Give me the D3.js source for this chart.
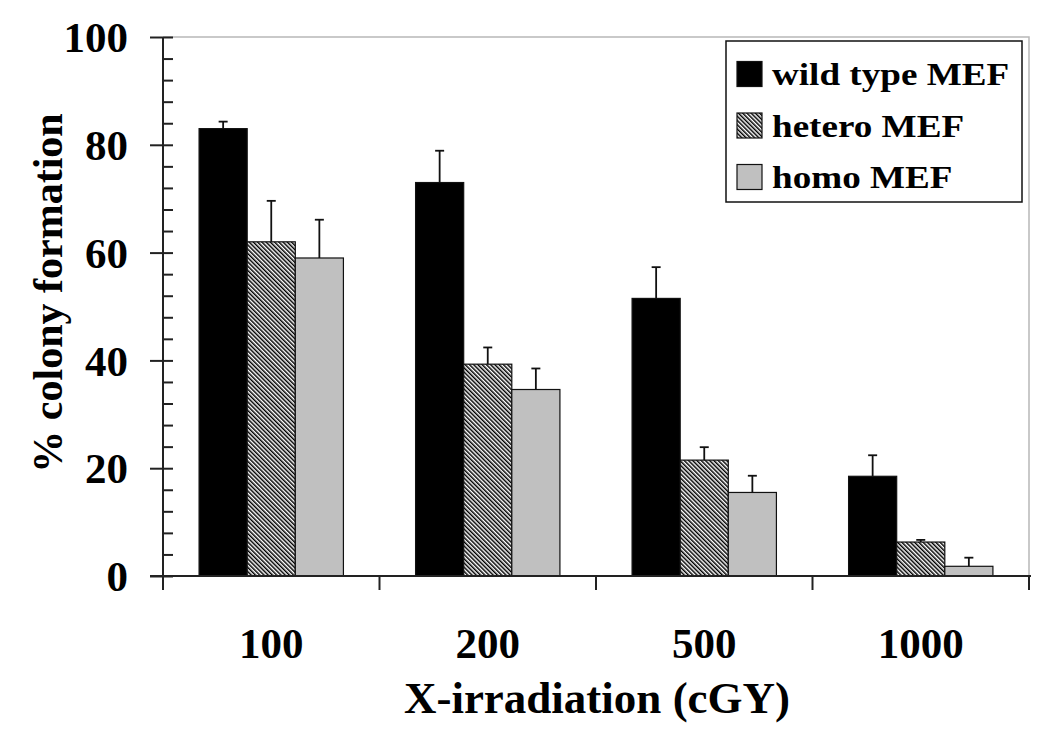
<!DOCTYPE html>
<html>
<head>
<meta charset="utf-8">
<script src="https://cdn.jsdelivr.net/npm/d3@7"></script>
<style>
  html, body { margin: 0; padding: 0; background: #fff; }
  svg text { font-family: "Liberation Serif", "Times New Roman", serif; font-weight: bold; fill: #000; }
</style>
</head>
<body>
<div id="chart"></div>
<script>
// datos
const doses = ['100', '200', '500', '1000'];
const seriesNames = ['wild type MEF', 'hetero MEF', 'homo MEF'];
const wildType = [83, 73, 51.5, 18.5];
const wildTypeErr = [1.3, 5.9, 5.8, 3.9];
const hetero = [62, 39.3, 21.5, 6.3];
const heteroErr = [7.6, 3.1, 2.4, 0.4];
const homo = [59, 34.6, 15.5, 1.8];
const homoErr = [7.1, 3.9, 3.1, 1.6];
const yTicks = [0, 20, 40, 60, 80, 100];

const width = 1050;
const height = 735;
const margin = { top: 37, right: 21, bottom: 159, left: 163 };

const svg = d3.select('#chart').append('svg')
    .attr('width', width)
    .attr('height', height);

// patrón rayado para "hetero"
const defs = svg.append('defs');
const hatch = defs.append('pattern')
    .attr('id', 'hatch')
    .attr('patternUnits', 'userSpaceOnUse')
    .attr('width', 3)
    .attr('height', 10)
    .attr('patternTransform', 'rotate(-45)');
hatch.append('rect').attr('width', 3).attr('height', 10).attr('fill', '#fff');
hatch.append('rect').attr('width', 1.5).attr('height', 10).attr('fill', '#000');

const fills = ['#000', 'url(#hatch)', '#c0c0c0'];

const x0 = d3.scaleBand()
    .domain(doses)
    .range([margin.left, width - margin.right])
    .paddingInner(0)
    .paddingOuter(0);

const x1 = d3.scaleBand()
    .domain(seriesNames)
    .range([0, x0.bandwidth()])
    .paddingInner(0)
    .paddingOuter(0.75);

const y = d3.scaleLinear()
    .domain([0, 100])
    .range([height - margin.bottom, margin.top]);

const rows = doses.map((d, i) => ({
    dose: d,
    items: [
        { name: seriesNames[0], value: wildType[i], err: wildTypeErr[i], fill: fills[0] },
        { name: seriesNames[1], value: hetero[i], err: heteroErr[i], fill: fills[1] },
        { name: seriesNames[2], value: homo[i], err: homoErr[i], fill: fills[2] }
    ]
}));

// borde gris claro del área
svg.append('path')
    .attr('d', `M${margin.left},${margin.top}H${width - margin.right}V${y(0)}`)
    .attr('fill', 'none')
    .attr('stroke', '#b8b8b8')
    .attr('stroke-width', 1.5);

// barras
const groups = svg.selectAll('.group')
    .data(rows)
    .enter().append('g')
    .attr('class', 'group')
    .attr('transform', d => `translate(${x0(d.dose)},0)`);

groups.selectAll('.bar')
    .data(d => d.items)
    .enter().append('rect')
    .attr('class', 'bar')
    .attr('x', d => x1(d.name))
    .attr('y', d => y(d.value))
    .attr('width', x1.bandwidth())
    .attr('height', d => y(0) - y(d.value))
    .attr('fill', d => d.fill)
    .attr('stroke', '#111')
    .attr('stroke-width', 1.2);

// barras de error (solo hacia arriba)
const errG = groups.selectAll('.err')
    .data(d => d.items)
    .enter().append('g')
    .attr('class', 'err')
    .attr('stroke', '#111')
    .attr('stroke-width', 1.8);

errG.append('line')
    .attr('x1', d => x1(d.name) + x1.bandwidth() / 2)
    .attr('x2', d => x1(d.name) + x1.bandwidth() / 2)
    .attr('y1', d => y(d.value))
    .attr('y2', d => y(d.value + d.err));

errG.append('line')
    .attr('x1', d => x1(d.name) + x1.bandwidth() / 2 - 4.5)
    .attr('x2', d => x1(d.name) + x1.bandwidth() / 2 + 4.5)
    .attr('y1', d => y(d.value + d.err))
    .attr('y2', d => y(d.value + d.err));

// eje Y
const yAxis = svg.append('g')
    .attr('transform', `translate(${margin.left},0)`)
    .call(d3.axisLeft(y).tickValues(yTicks).tickSize(13).tickPadding(22).tickFormat(d3.format('d')));

yAxis.select('.domain').remove();
yAxis.selectAll('.tick line').attr('stroke', '#222').attr('stroke-width', 2);
yAxis.selectAll('.tick text')
    .style('font-size', '43px')
    .attr('dy', '0.34em');

const yMinor = svg.append('g')
    .attr('transform', `translate(${margin.left},0)`)
    .call(d3.axisRight(y).tickValues(d3.range(0, 101, 4)).tickSize(10).tickFormat(''));
yMinor.select('.domain').remove();
yMinor.selectAll('.tick line').attr('stroke', '#222').attr('stroke-width', 2);

svg.append('line')
    .attr('x1', margin.left).attr('x2', margin.left)
    .attr('y1', y(100)).attr('y2', y(0))
    .attr('stroke', '#222').attr('stroke-width', 2);

// eje X
const xAxis = svg.append('g')
    .attr('transform', `translate(0,${y(0)})`)
    .call(d3.axisBottom(x0).tickSize(0).tickPadding(51));
xAxis.select('.domain').remove();
xAxis.selectAll('.tick text').style('font-size', '43px');

svg.append('line')
    .attr('x1', margin.left - 13).attr('x2', width - margin.right + 2)
    .attr('y1', y(0)).attr('y2', y(0))
    .attr('stroke', '#222').attr('stroke-width', 2);

const bounds = doses.map(d => x0(d)).concat([x0(doses[doses.length - 1]) + x0.bandwidth()]);
svg.selectAll('.sep')
    .data(bounds)
    .enter().append('line')
    .attr('class', 'sep')
    .attr('x1', d => d).attr('x2', d => d)
    .attr('y1', y(0)).attr('y2', y(0) + 14)
    .attr('stroke', '#222').attr('stroke-width', 2);

// títulos de ejes
svg.append('text')
    .attr('x', 597)
    .attr('y', 713)
    .attr('text-anchor', 'middle')
    .style('font-size', '45px')
    .text('X-irradiation (cGY)');

svg.append('text')
    .attr('transform', 'rotate(-90)')
    .attr('x', -293)
    .attr('y', 62)
    .attr('text-anchor', 'middle')
    .style('font-size', '42px')
    .text('% colony formation');

// leyenda
const legend = svg.append('g').attr('transform', 'translate(726,41)');
legend.append('rect')
    .attr('width', 296)
    .attr('height', 161)
    .attr('fill', '#fff')
    .attr('stroke', '#111')
    .attr('stroke-width', 1.5);

const legItems = legend.selectAll('.leg')
    .data(seriesNames)
    .enter().append('g')
    .attr('class', 'leg')
    .attr('transform', (d, i) => `translate(11,${33 + i * 51.5})`);

legItems.append('rect')
    .attr('y', -12.5)
    .attr('width', 25)
    .attr('height', 25)
    .attr('fill', (d, i) => fills[i])
    .attr('stroke', '#111')
    .attr('stroke-width', 1.2);

legItems.append('text')
    .attr('x', 35)
    .attr('y', 11)
    .style('font-size', '32px')
    .text(d => d)
    .each(function () {
        const len = this.getComputedTextLength();
        d3.select(this).attr('textLength', len * 1.16).attr('lengthAdjust', 'spacingAndGlyphs');
    });
</script>
</body>
</html>
